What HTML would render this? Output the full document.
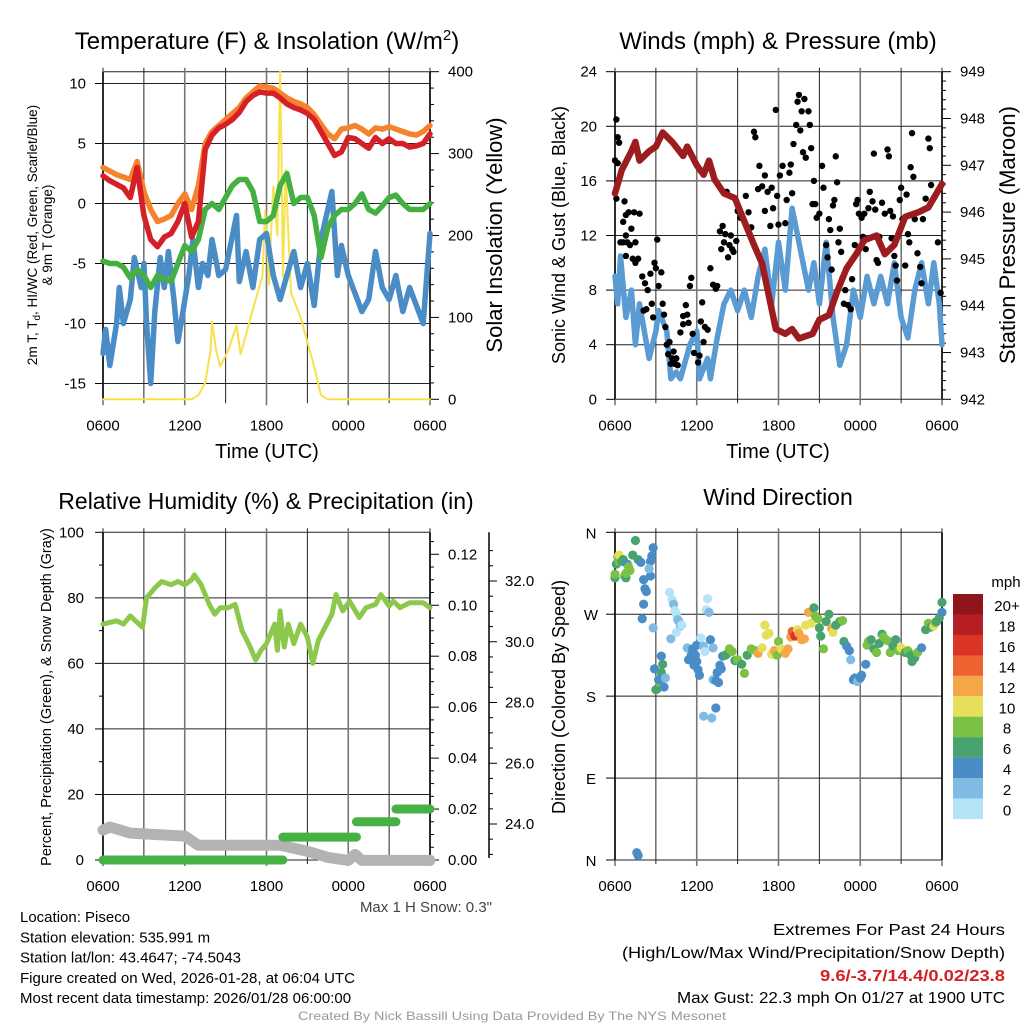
<!DOCTYPE html>
<html><head><meta charset="utf-8"><style>
html,body{margin:0;padding:0;background:#fff;}
svg{display:block;font-family:"Liberation Sans",sans-serif;}
</style></head><body>
<svg id="c" width="1024" height="1024" viewBox="0 0 1024 1024"></svg>
<script>
// ---------- DATA ----------
const hourTicks=["0600","1200","1800","0000","0600"];
// Panel 1 (every 0.5 h from 0600)
const orangeT9m=[3.0,2.7,2.4,2.2,2.0,3.5,1.0,-0.5,-1.5,-1.3,-1.0,0.0,0.8,-0.5,1.5,5.0,6.0,6.5,7.0,7.5,8.0,8.8,9.3,9.8,9.7,9.6,9.2,8.8,8.5,8.3,8.0,7.4,6.6,5.8,5.4,6.2,6.3,6.5,6.2,5.8,6.3,6.2,6.4,6.2,6.0,5.8,5.7,6.0,6.5];
const redT2m=[2.3,1.9,1.6,1.3,0.5,3.0,-1.0,-3.0,-3.6,-2.8,-2.5,-1.5,0.0,-2.8,-1.5,4.5,5.7,6.3,6.6,7.0,7.6,8.5,9.0,9.3,9.2,9.2,8.8,8.3,8.0,7.8,7.5,7.0,6.0,5.0,4.0,4.3,5.5,5.4,5.0,4.6,5.5,5.0,5.4,5.0,5.0,4.7,4.8,5.0,5.8];
const greenTd=[-4.8,-5.0,-5.0,-5.3,-6.2,-5.5,-6.0,-7.0,-6.0,-6.3,-6.5,-5.0,-3.5,-4.0,-3.0,-0.5,0.0,-0.5,0.5,1.5,2.0,2.0,1.0,-1.5,-1.5,-1.0,1.5,2.5,0.0,0.5,0.5,-1.0,-4.5,-2.0,-1.0,-0.5,-0.5,0.0,0.8,-0.5,-0.8,-0.2,0.5,0.7,0.0,-0.5,-0.5,-0.5,0.0];
const wcHours=[0,0.2,0.5,1,1.2,1.5,2,2.3,2.8,3,3.2,3.5,3.8,4.2,4.5,4.8,5.2,5.5,5.8,6.3,6.6,7,7.3,7.7,8,8.5,9,9.8,10,10.5,11,11.5,12,12.5,13,13.5,14,14.5,15,15.5,16,16.8,17.2,17.5,18,18.5,19,19.5,20,20.5,21,21.5,22,22.5,23.5,24];
const wcValues=[-12.5,-10.5,-13.5,-10,-7,-10,-8,-4.5,-7,-5,-10,-15,-9,-4.5,-7,-4,-8,-11.5,-9.5,-6,-3,-7,-5,-6,-3,-6,-5.5,-1,-6.5,-4,-7,-3,-2.5,-6,-8,-6,-4,-7,-5,-8.5,-3,1,-6,-3.5,-6,-7.5,-9,-8,-4,-7,-8,-6,-9,-7,-10,-2.5];
const solarHours=[0,6,6.5,7,7.5,7.9,8,8.3,8.6,9.2,9.8,10.1,11,11.7,11.9,12.2,12.3,12.5,12.8,13,13.1,13.2,13.4,13.8,14.5,15,15.5,16,16.5,24];
const solarValues=[0,0,0,5,20,60,95,60,40,60,90,55,110,150,230,140,190,260,200,400,300,150,280,130,100,70,40,5,0,0];
// Panel 2
const presHours=[0,0.5,1.2,1.5,1.8,2.5,3,3.5,4.2,5,5.3,6,6.5,6.9,7.3,8,8.8,9.5,10.2,10.8,11.3,11.8,12.5,13,13.5,14.5,15,15.7,16.3,17,17.7,18.3,19.2,19.8,20.5,21.3,22.3,23,24];
const presValues=[946.4,946.9,947.3,947.5,947.1,947.3,947.4,947.7,947.5,947.2,947.4,947.0,946.8,947.1,946.7,946.4,946.3,945.8,945.3,944.9,944.2,943.5,943.4,943.5,943.3,943.4,943.7,943.8,944.3,944.8,945.1,945.4,945.5,945.1,945.3,945.9,946.0,946.1,946.6];
const windHours=[0,0.2,0.4,0.8,1.2,1.5,1.8,2.5,3,3.2,3.8,4.1,4.5,4.8,5.5,6,6.2,6.8,7,7.5,8,8.5,9,9.5,10,10.5,11,11.5,12,12.5,13,13.4,13.8,14.2,14.6,15,15.5,16,16.5,17,17.5,18,18.5,19,19.5,20,20.5,21,21.5,22,22.5,23,23.4,23.8,24];
const windValues=[9,7,10.5,6,8,4,7,3,5,6.5,5,1.5,2,1.5,4,5,1.5,3,1.5,4.5,7,8,6.5,8,6,9,11,7,11.5,8,14,12,10,8,10,7,11.5,6,2.5,4,8,6,9,7,9,7,10,6,4.5,8,10,7,10,7,4];
const gustHours=[0,0.1,0.1,0.2,0.2,0.3,0.4,0.6,0.6,0.7,0.8,0.8,0.8,0.9,1,1.1,1.2,1.3,1.4,1.5,1.5,1.7,1.8,2,2.1,2.2,2.3,2.4,2.6,2.7,2.8,2.9,3,3.1,3.2,3.4,3.5,3.6,3.7,3.8,3.9,4,4.1,4.2,4.3,4.4,4.5,4.6,4.8,5,5,5.2,5.3,5.4,5.5,5.6,5.7,5.8,6.1,6.2,6.3,6.4,6.5,6.6,6.8,7,7.2,7.4,7.5,7.7,7.8,7.9,8,8.1,8.2,8.3,8.4,8.5,8.6,8.7,8.9,9,9.2,9.6,9.8,10,10.2,10.3,10.5,10.6,10.8,11,11,11.2,11.4,11.5,11.6,11.8,11.9,12,12.1,12.3,12.5,12.6,12.8,12.9,13,13.1,13.3,13.4,13.5,13.6,13.7,13.8,13.9,14,14.2,14.3,14.4,14.5,14.6,14.7,14.8,15,15.2,15.3,15.5,15.6,15.7,15.8,15.9,16,16.1,16.2,16.3,16.4,16.5,16.6,16.7,16.8,16.9,17.1,17.3,17.4,17.6,17.7,17.8,17.9,18.1,18.2,18.3,18.4,18.6,18.7,18.9,19,19.1,19.2,19.3,19.4,19.6,19.8,20,20.1,20.2,20.3,20.4,20.5,20.6,20.7,20.9,21,21.1,21.3,21.4,21.5,21.6,21.7,21.8,21.9,22,22.2,22.4,22.5,22.6,22.8,23,23.1,23.2,23.7,23.9];
const gustValues=[17.5,20.5,14.7,19.2,17.3,18.8,11.5,11.5,13,14.5,13.5,12,10.5,11.5,13.7,11.3,12.5,10.3,13.7,10,11.5,10.3,13.6,9,6.5,8.5,6.6,8,9.2,7,6,10,9.6,11.7,8.3,9.3,7,6.2,5.3,4,3.3,4.2,2.6,3,3.5,2.6,3,2.5,4.9,6.1,5.5,6.9,6.2,5.6,8.3,8.9,4.8,3.4,2.7,3.2,5.7,7.1,4.2,5.3,5.1,9.6,8.4,8.1,8.3,12.3,11,12.7,11.5,12.1,15.2,10.4,11.3,12,11,10.8,11.6,13.8,13.3,14.9,13.7,12.6,19.6,19.2,15.4,17.1,15.6,16.4,13.8,15.2,12.7,15.5,14,21.2,14.9,12.8,16.4,17.1,12.9,14.6,16.6,17.2,15.1,18.7,20.1,21.8,22.3,19.7,21.1,18.1,22,17.7,21.1,20.1,18.4,14.3,16,14.3,13.3,13.6,17.1,15.5,11.3,10.4,13.2,12.4,9.5,14.2,14.6,17.8,15.9,11.5,12.5,10.8,8.9,7,8,6.9,6.6,8.8,11.3,14.3,14.6,13.6,13.3,11.9,13.6,11,14,15.2,14.5,18,13.9,10.2,10,11.9,14.4,13.6,18.3,17.8,13.8,11.8,13.4,10.5,9.8,8.7,14.6,15.5,13.2,9.8,15,12.1,11.5,17,19.5,16.3,13.2,10.7,9.7,8.5,13.2,14.7,19.1,18.4,15.7,11.5,7.8];
// Panel 3
const rhHours=[0,1,1.5,2,2.9,3.2,3.8,4.3,5,5.5,6,6.5,6.7,7.2,7.8,8.2,8.6,9.2,9.7,10.2,10.8,11.2,11.6,12,12.6,12.8,13,13.3,13.6,14,14.5,15,15.4,15.8,16.3,16.8,17.1,17.6,18.1,18.8,19.3,20,20.4,21,21.3,21.8,22.5,23.5,24];
const rhValues=[72,73,72,74.5,71,80,83,85,84,85,84,85.5,87,84,78,75,77,77,78,70,65,61,64,66,72,64,76,65,72,66,72,68,60,67,71,75,81,76,79,74,77,78,81,77.5,79,77,78.5,78.5,77];
const precipStart=[0,13.2,18.6,21.5];
const precipEnd=[13.2,18.6,21.5,24];
const precipValues=[0,0.009,0.015,0.02];
const snowHours=[0,0.5,2,6,7,13,15,16.5,18,18.5,19,24];
const snowValues=[23.8,23.9,23.7,23.6,23.3,23.3,23.1,22.9,22.8,23.0,22.8,22.8];
// Panel 4
const dirHours=[0,0,0.1,0.2,0.3,0.3,0.5,0.6,0.7,0.8,0.8,0.9,1,1.1,1.3,1.5,1.7,1.9,2.1,2.2,2.3,2.1,2,2.6,2.6,2.7,2.8,2.5,2.8,2.9,3,3.1,3.3,3.4,3.5,3.2,3.6,3.7,3.4,4.1,4,4.2,4.3,4.4,4.5,4.6,4.7,4.8,4.9,4.5,5.3,5.6,5.7,5.9,6,6.1,6.2,5.4,5.8,6,6.3,6.5,6.6,6.7,6.8,6.9,7,7.2,7.2,7.4,7.5,7.6,7.7,7.8,7.4,6.5,7.1,7.9,8.1,8.2,8.4,8.6,8.8,9,9.3,9.5,9.7,10,10.3,10.5,10.8,11,11.1,11.3,11.5,11.7,11.9,12,12.2,12.5,12.7,12.9,13,13.2,13.4,13.5,13.7,13.9,14,14.2,14.4,14.6,14.7,14.9,15,15.1,15.3,15.5,15.7,15.9,16,16.2,16.5,16.7,16.8,17,17.2,17.3,17.5,17.6,17.8,18,18.1,18.4,18.5,18.6,18.8,19,19.2,19.4,19.6,19.7,20,20.2,20.4,20.6,20.8,21,21.3,21.5,21.7,21.8,22,22.2,22.5,22.8,23,23.2,23.4,23.5,23.6,23.8,24,24,1.6,1.7];
const dirDegrees=[310,314,325,333,328,335,328,330,312,310,315,325,322,318,335,351,330,327,308,298,295,281,265,312,328,334,343,320,255,210,187,188,195,206,215,198,190,200,224,243,294,286,281,274,270,264,262,257,258,250,233,225,232,225,218,209,203,220,214,236,244,235,229,275,287,272,242,233,198,197,206,195,214,210,167,158,156,224,225,226,232,229,219,220,215,205,225,232,230,227,233,258,247,249,226,230,225,240,232,227,232,245,251,246,253,249,242,243,258,272,260,277,268,265,255,246,232,262,270,254,250,258,262,263,240,235,230,220,198,200,196,200,203,215,236,240,242,232,228,238,248,245,241,228,235,242,230,233,228,230,225,218,222,228,233,253,260,256,257,261,262,266,272,283,8,5];
const dirSpeeds=[6,8,6,8,8,10,6,6,8,6,8,4,8,8,6,6,6,4,4,4,4,4,4,4,4,4,4,2,2,4,6,6,8,6,6,4,4,2,4,2,0,0,2,0,0,2,2,2,0,0,2,4,4,4,4,4,4,4,4,4,0,2,0,0,0,2,4,2,2,4,4,4,4,4,4,2,2,4,6,6,8,8,6,8,6,8,6,8,8,12,10,10,10,10,10,12,8,8,10,12,12,12,14,16,10,12,12,12,10,12,10,6,8,8,6,6,8,6,6,12,10,6,6,8,6,4,4,2,4,4,2,4,4,4,8,8,6,6,8,6,6,8,8,8,6,6,8,10,6,8,6,6,6,8,4,6,8,6,10,8,6,6,4,6,4,4];
const cbLabels=["20+","18","16","14","12","10","8","6","4","2","0"];
const cbColors=["#8e1519","#b81d24","#dc3327","#ee6131","#f5a747","#e6df5a","#7bc146","#48a36e","#4a8cc6","#80bbe4","#b5e3f8"];

// ---------- DRAW ----------
const NS="http://www.w3.org/2000/svg";
const svg=document.getElementById('c');
function el(tag,attrs,parent,txt){const e=document.createElementNS(NS,tag);for(const k in attrs)e.setAttribute(k,attrs[k]);if(txt!==undefined)e.textContent=txt;(parent||svg).appendChild(e);return e;}
function grp(name){const g=el('g',{});return g;}
function txt(g,x,y,s,size,anchor,extra){const t=el('text',Object.assign({x:x,y:y,'font-size':size,'text-anchor':anchor||'middle',fill:'#000'},extra||{}),g,s);return t;}

const L1=103,R1=430,L2=615,R2=942,T1=71.7,B1=399.3,T3=532.3,B3=860;
function xs(L,R){return h=>L+(R-L)*h/24;}
function lin(v0,p0,v1,p1){return v=>p0+(v-v0)*(p1-p0)/(v1-v0);}

function frame(L,R,T,B,name,hlines){
  const g=grp(name);
  hlines.forEach(y=>el('line',{x1:L,x2:R,y1:y,y2:y,stroke:'#222','stroke-width':1},g));
  for(let i=0;i<=8;i++){const x=L+(R-L)*i/8;el('line',{x1:x,x2:x,y1:T-4,y2:B+(i%2==0?6:4),stroke:i%2?'#222':'#777','stroke-width':i%2?1:1.6},g);}
  el('line',{x1:L,x2:L,y1:T,y2:B,stroke:'#000','stroke-width':1.5},g);
  el('line',{x1:R,x2:R,y1:T,y2:B,stroke:'#000','stroke-width':1.5},g);
  const lg=grp('x-tick-labels');g.appendChild(lg);
  hourTicks.forEach((s,i)=>txt(lg,L+(R-L)*i/4,B+31,s,15));
  return g;
}
function path(g,xsArr,ysArr,stroke,w,name){
  let d='';xsArr.forEach((x,i)=>{d+=(i?'L':'M')+x.toFixed(1)+' '+ysArr[i].toFixed(1);});
  const p=el('path',{d:d,fill:'none',stroke:stroke,'stroke-width':w,'stroke-linejoin':'round','stroke-linecap':'round'},g);
  return p;
}
const idxH=n=>Array.from({length:n},(_,i)=>24*i/(n-1));

// ===== Panel 1 =====
{
const X=xs(L1,R1),Y=lin(0,203.5,10,83.5),YS=lin(0,B1,400,T1);
const yt=[10,5,0,-5,-10,-15];
const g=frame(L1,R1,T1,B1,'temperature-panel',[T1].concat(yt.map(Y)));
const la=grp('left-axis');g.appendChild(la);
yt.forEach(v=>{el('line',{x1:95,x2:L1,y1:Y(v),y2:Y(v),stroke:'#000'},la);txt(la,86,Y(v)+5,String(v),15,'end');});
const ra=grp('right-axis');g.appendChild(ra);
for(let v=0;v<=400;v+=20){el('line',{x1:R1,x2:R1+(v%100?4:9),y1:YS(v),y2:YS(v),stroke:'#000'},ra);}
[0,100,200,300,400].forEach(v=>txt(ra,448,YS(v)+5,String(v),15,'start'));
path(g,solarHours.map(X),solarValues.map(YS),'#f7e14c',2,'solar-insolation-line');
path(g,wcHours.map(X),wcValues.map(Y),'#4a8cc6',5.5,'wind-chill-line');
path(g,idxH(greenTd.length).map(X),greenTd.map(Y),'#44b041',5.5,'dewpoint-line');
path(g,idxH(orangeT9m.length).map(X),orangeT9m.map(Y),'#f6822e',5.5,'9m-temp-line');
path(g,idxH(redT2m.length).map(X),redT2m.map(Y),'#d62027',5.5,'2m-temp-line');
const tt=txt(g,267,49,'',24);
tt.innerHTML='Temperature (F) &amp; Insolation (W/m<tspan dy="-9" font-size="15">2</tspan><tspan dy="9">)</tspan>';
const xt=txt(g,267,458,'Time (UTC)',20);
const yl=el('text',{transform:'translate(37,235) rotate(-90)','font-size':13.5,'text-anchor':'middle'},g);

yl.innerHTML='2m T, T<tspan dy="3" font-size="10">d</tspan><tspan dy="-3">, HI/WC (Red, Green, Scarlet/Blue)</tspan>';
const yl2=el('text',{transform:'translate(52,235) rotate(-90)','font-size':13.5,'text-anchor':'middle'},g,'& 9m T (Orange)');

const yr=el('text',{transform:'translate(502,235) rotate(-90)','font-size':22,'text-anchor':'middle'},g,'Solar Insolation (Yellow)');

}
// ===== Panel 2 =====
{
const X=xs(L2,R2),Y=lin(0,B1,24,T1),YP=lin(942,B1,949,T1);
const yt=[0,4,8,12,16,20,24];
const g=frame(L2,R2,T1,B1,'wind-panel',yt.map(Y));
const la=grp('left-axis');g.appendChild(la);
yt.forEach(v=>{el('line',{x1:606,x2:L2,y1:Y(v),y2:Y(v),stroke:'#000'},la);txt(la,597,Y(v)+5,String(v),15,'end');});
const ra=grp('right-axis');g.appendChild(ra);
for(let v=942;v<=949.001;v+=0.2){el('line',{x1:R2,x2:R2+(Math.abs(v-Math.round(v))<0.01?9:4),y1:YP(v),y2:YP(v),stroke:'#000'},ra);}
for(let v=942;v<=949;v++)txt(ra,960,YP(v)+5,String(v),15,'start');
path(g,windHours.map(X),windValues.map(Y),'#5a9bd4',5.5,'sonic-wind-line');
const dg=grp('gust-points');g.appendChild(dg);
gustHours.forEach((h,i)=>{const c=el('circle',{cx:X(h),cy:Y(gustValues[i]),r:3.2,fill:'#000'},dg);

});
path(g,presHours.map(X),presValues.map(YP),'#9c1c1f',6.5,'pressure-line');
const tt=txt(g,778,49,'Winds (mph) & Pressure (mb)',24);
const xt=txt(g,778,458,'Time (UTC)',20);
const yl=el('text',{transform:'translate(565,235) rotate(-90)','font-size':18,'text-anchor':'middle'},g,'Sonic Wind & Gust (Blue, Black)');

const yr=el('text',{transform:'translate(1015,235) rotate(-90)','font-size':22,'text-anchor':'middle'},g,'Station Pressure (Maroon)');

}
// ===== Panel 3 =====
{
const X=xs(L1,R1),Y=lin(0,B3,100,T3),YP=lin(0,B3,0.12,554.3),YS=lin(24,824,32,581);
const yt=[0,20,40,60,80,100];
const g=frame(L1,R1,T3,B3,'humidity-panel',yt.map(Y));
const la=grp('left-axis');g.appendChild(la);
yt.forEach(v=>{el('line',{x1:95,x2:L1,y1:Y(v),y2:Y(v),stroke:'#000'},la);txt(la,84,Y(v)+5,String(v),15,'end');});
for(let v=10;v<100;v+=20)el('line',{x1:99,x2:L1,y1:Y(v),y2:Y(v),stroke:'#000'},la);
const ra=grp('precip-axis');g.appendChild(ra);
for(let v=0;v<=0.126;v+=0.005){const mj=Math.abs(v*50-Math.round(v*50))<0.01;el('line',{x1:R1,x2:R1+(mj?9:4),y1:YP(v),y2:YP(v),stroke:'#000'},ra);}
[0,0.02,0.04,0.06,0.08,0.10,0.12].forEach(v=>txt(ra,448,YP(v)+5,v.toFixed(2),15,'start'));
const sa=grp('snow-axis');g.appendChild(sa);
el('line',{x1:489,x2:489,y1:T3,y2:858,stroke:'#000','stroke-width':1.5},sa);
for(let v=23;v<=33.01;v+=0.5){const y=YS(v);if(y<T3||y>858)continue;el('line',{x1:489,x2:489+(v%2==0?8:4),y1:y,y2:y,stroke:'#000'},sa);}
[24,26,28,30,32].forEach(v=>txt(sa,505,YS(v)+5,v.toFixed(1),15,'start'));
path(g,snowHours.map(X),snowValues.map(YS),'#b3b3b3',11,'snow-depth-line');
const pg=grp('precip-steps');g.appendChild(pg);
precipValues.forEach((v,i)=>{const l=el('line',{x1:X(precipStart[i]),x2:X(precipEnd[i]),y1:YP(v),y2:YP(v),stroke:'#48b145','stroke-width':9,'stroke-linecap':'round'},pg);

});
path(g,rhHours.map(X),rhValues.map(Y),'#8cc84b',5,'relative-humidity-line');
const tt=txt(g,266,509,'Relative Humidity (%) & Precipitation (in)',23);
const yl=el('text',{transform:'translate(51,697) rotate(-90)','font-size':14.5,'text-anchor':'middle'},g,'Percent, Precipitation (Green), & Snow Depth (Gray)');

const ms=txt(g,492,912,'Max 1 H Snow: 0.3"',15,'end',{fill:'#444'});
}
// ===== Panel 4 =====
{
const X=xs(L2,R2),Y=lin(0,B3,360,T3);
const g=frame(L2,R2,T3,B3,'wind-direction-panel',[360,270,180,90,0].map(Y));
const la=grp('direction-axis');g.appendChild(la);
[['N',360],['W',270],['S',180],['E',90],['N',0]].forEach(([s,v])=>{el('line',{x1:606,x2:L2,y1:Y(v),y2:Y(v),stroke:'#000'},la);txt(la,591,Y(v)+6,s,15);});
const cmap=s=>cbColors[10-Math.min(10,Math.floor(s/2))];
const dg=grp('direction-points');g.appendChild(dg);
dirHours.forEach((h,i)=>{const c=el('circle',{cx:X(h),cy:Y(dirDegrees[i]),r:4.6,fill:cmap(dirSpeeds[i])},dg);

});
const cb=grp('speed-colorbar');g.appendChild(cb);
cbColors.forEach((c,i)=>{el('rect',{x:953,y:594+i*20.45,width:30,height:20.6,fill:c},cb);txt(cb,1007,594+i*20.45+17,cbLabels[i],15);});
txt(cb,1006,587,'mph',15);
const tt=txt(g,778,505,'Wind Direction',23);
const yl=el('text',{transform:'translate(565,697) rotate(-90)','font-size':18,'text-anchor':'middle'},g,'Direction (Colored By Speed)');

}
// ===== Footer =====
{
const g=grp('station-info');
['Location: Piseco','Station elevation: 535.991 m','Station lat/lon: 43.4647; -74.5043','Figure created on Wed, 2026-01-28, at 06:04 UTC','Most recent data timestamp: 2026/01/28 06:00:00'].forEach((s,i)=>{
txt(g,20,922+i*20.3,s,15,'start');});
const r=grp('extremes-info');
txt(r,1005,935,'Extremes For Past 24 Hours',15.5,'end',{textLength:232,lengthAdjust:'spacingAndGlyphs'});
txt(r,1005,958,'(High/Low/Max Wind/Precipitation/Snow Depth)',15.5,'end',{textLength:383,lengthAdjust:'spacingAndGlyphs'});
txt(r,1005,981,'9.6/-3.7/14.4/0.02/23.8',15.5,'end',{fill:'#d42027','font-weight':'bold',textLength:185,lengthAdjust:'spacingAndGlyphs'});
txt(r,1005,1003,'Max Gust: 22.3 mph On 01/27 at 1900 UTC',15.5,'end',{textLength:328,lengthAdjust:'spacingAndGlyphs'});
const c=grp('credit');
txt(c,512,1020,'Created By Nick Bassill Using Data Provided By The NYS Mesonet',12,'middle',{fill:'#999',textLength:428,lengthAdjust:'spacingAndGlyphs'});
}
</script>
</body></html>
